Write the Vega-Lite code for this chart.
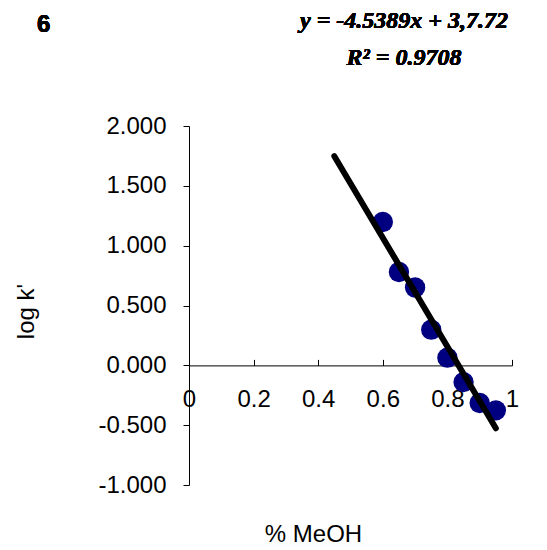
{
  "$schema": "https://vega.github.io/schema/vega-lite/v6.json",
  "autosize": {"type": "none"},
  "padding": {"left": 189, "top": 126, "right": 35, "bottom": 65},
  "width": 323,
  "height": 359,
  "background": "white",
  "config": {
    "view": {"stroke": null},
    "font": "Liberation Sans"
  },
  "data": {
    "values": [
      {"meoh": 0.60, "logk": 1.198},
      {"meoh": 0.65, "logk": 0.780},
      {"meoh": 0.70, "logk": 0.650},
      {"meoh": 0.75, "logk": 0.298},
      {"meoh": 0.80, "logk": 0.064},
      {"meoh": 0.85, "logk": -0.140},
      {"meoh": 0.90, "logk": -0.315},
      {"meoh": 0.95, "logk": -0.376}
    ]
  },
  "encoding": {
    "x": {
      "field": "meoh",
      "type": "quantitative",
      "scale": {"domain": [0, 1], "nice": false, "zero": false},
      "axis": {
        "title": "% MeOH",
        "values": [0, 0.2, 0.4, 0.6, 0.8, 1],
        "format": "~g",
        "grid": false,
        "offset": -119.6,
        "domainColor": "#000000",
        "tickColor": "#000000",
        "tickSize": -6,
        "labelPadding": 28,
        "labelFontSize": 24,
        "labelColor": "#000000",
        "labelFlush": false,
        "labelOverlap": false,
        "titleFontSize": 24,
        "titleFontWeight": "normal",
        "titleColor": "#000000",
        "titleX": 124,
        "titleY": 176,
        "titleBaseline": "alphabetic",
        "titleAnchor": "middle",
        "titleAlign": "center"
      }
    },
    "y": {
      "field": "logk",
      "type": "quantitative",
      "scale": {"domain": [-1, 2], "nice": false, "zero": false},
      "axis": {
        "title": "log k'",
        "values": [-1, -0.5, 0, 0.5, 1, 1.5, 2],
        "labelExpr": "replace(format(datum.value, '.3f'), '\u2212', '-')",
        "grid": false,
        "domainColor": "#000000",
        "tickColor": "#000000",
        "tickSize": 6,
        "labelPadding": 17,
        "labelFontSize": 24,
        "labelColor": "#000000",
        "labelFlush": false,
        "labelOverlap": false,
        "titleFontSize": 24,
        "titleFontWeight": "normal",
        "titleColor": "#000000",
        "titleX": -156,
        "titleY": 185,
        "titleAngle": -90,
        "titleBaseline": "alphabetic",
        "titleAlign": "center"
      }
    }
  },
  "layer": [
    {
      "mark": {"type": "circle", "size": 415, "color": "#000080", "opacity": 1}
    },
    {
      "transform": [
        {"regression": "logk", "on": "meoh", "extent": [0.45, 0.95]}
      ],
      "mark": {"type": "line", "color": "#000000", "strokeWidth": 6, "strokeCap": "round"}
    },
    {
      "mark": {
        "type": "text",
        "text": "6",
        "font": "Liberation Sans",
        "fontSize": 24,
        "fontWeight": "bold",
        "align": "left",
        "baseline": "alphabetic",
        "color": "#000000"
      },
      "encoding": {
        "x": {"datum": -0.4706},
        "y": {"datum": 2.784}
      }
    },
    {
      "mark": {
        "type": "text",
        "text": ["y = -4.5389x + 3,7.72", "R² = 0.9708"],
        "font": "Liberation Serif",
        "fontSize": 24,
        "fontWeight": "bold",
        "fontStyle": "italic",
        "align": "center",
        "baseline": "alphabetic",
        "lineHeight": 37,
        "color": "#000000"
      },
      "encoding": {
        "x": {"datum": 0.6656},
        "y": {"datum": 2.818}
      }
    }
  ]
}
